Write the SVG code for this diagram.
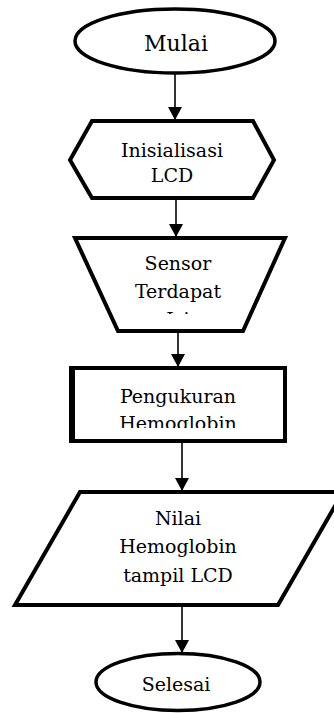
<svg xmlns="http://www.w3.org/2000/svg" width="334" height="713" viewBox="0 0 334 713">
<style>
.shape{fill:#fff;stroke:#000;stroke-width:4;stroke-linejoin:miter}
.term{fill:#fff;stroke:#000;stroke-width:3.5}
.lbl{font-family:"DejaVu Serif","Liberation Serif",serif;font-size:19px;fill:#000;text-anchor:middle}
.conn{stroke:#000;stroke-width:1.6;fill:none;marker-end:url(#arr)}
</style>
<defs>
<marker id="arr" markerUnits="userSpaceOnUse" markerWidth="14" markerHeight="16" refX="13" refY="7" orient="auto">
<path d="M0,0 L13,7 L0,14 Z" fill="#000"/>
</marker>
<clipPath id="clipSensor"><rect x="0" y="230" width="334" height="84"/></clipPath>
<clipPath id="clipUkur"><rect x="0" y="360" width="334" height="68"/></clipPath>
</defs>
<rect width="334" height="713" fill="#fff"/>
<g id="connectors">
<line class="conn" x1="175" y1="73" x2="175" y2="120"/>
<line class="conn" x1="176" y1="198" x2="176" y2="237"/>
<line class="conn" x1="178" y1="331" x2="178" y2="367"/>
<line class="conn" x1="182" y1="441" x2="182" y2="491"/>
<line class="conn" x1="182" y1="605" x2="182" y2="653"/>
</g>
<g id="mulai">
<ellipse class="term" cx="175" cy="41" rx="100" ry="32"/>
<text class="lbl" x="176" y="51" style="font-size:22px">Mulai</text>
</g>
<g id="inisialisasi">
<polygon class="shape" points="70,160 92,121 253,121 274,160 253,198 92,198"/>
<text class="lbl" x="172" y="157">Inisialisasi</text>
<text class="lbl" x="172" y="182">LCD</text>
</g>
<g id="sensor">
<polygon class="shape" points="75,238 285,238 243,331 118,331"/>
<g clip-path="url(#clipSensor)">
<text class="lbl" x="178" y="270">Sensor</text>
<text class="lbl" x="178" y="298">Terdapat</text>
<text class="lbl" x="178" y="326">Isi</text>
</g>
</g>
<g id="pengukuran">
<rect class="shape" x="72" y="368" width="213" height="73"/>
<line x1="72" y1="366" x2="72" y2="443" stroke="#000" stroke-width="6"/>
<g clip-path="url(#clipUkur)">
<text class="lbl" x="178" y="403">Pengukuran</text>
<text class="lbl" x="178" y="430">Hemoglobin</text>
</g>
</g>
<g id="nilai">
<polygon class="shape" points="80,492 343,492 278,605 15,605"/>
<text class="lbl" x="178" y="525">Nilai</text>
<text class="lbl" x="178" y="553">Hemoglobin</text>
<text class="lbl" x="178" y="582">tampil LCD</text>
</g>
<g id="selesai">
<ellipse class="term" cx="178" cy="682" rx="82" ry="28.5"/>
<text class="lbl" x="176" y="691">Selesai</text>
</g>
</svg>
